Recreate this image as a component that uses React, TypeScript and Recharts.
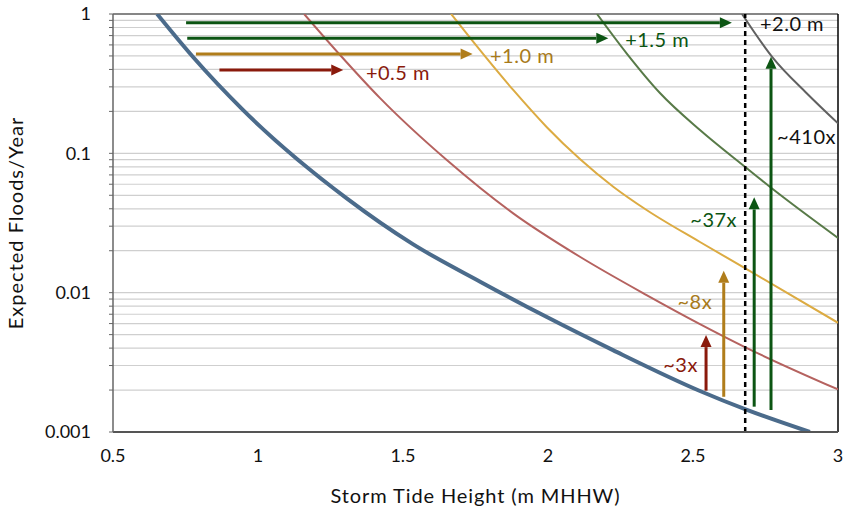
import React from "react";
import {
  LineChart,
  Line,
  XAxis,
  YAxis,
  CartesianGrid,
  ReferenceLine,
  ReferenceDot,
  Label,
} from "recharts";

// ---- data ----
const baseX = [0.652, 0.776, 0.948, 1.306, 1.534, 1.766, 1.996, 2.224, 2.524, 2.686, 2.903];
const baseY = [1, 0.491, 0.205, 0.0475, 0.0223, 0.012, 0.00668, 0.00387, 0.00197, 0.00144, 0.001];

const p05X = [1.159, 1.283, 1.421, 1.651, 1.88, 2.11, 2.34, 2.524, 2.679, 3.0];
const p05Y = [1, 0.508, 0.249, 0.0895, 0.0371, 0.0181, 0.00961, 0.00595, 0.00407, 0.00202];

const p10X = [1.666, 1.737, 1.88, 1.996, 2.11, 2.225, 2.34, 2.524, 2.679, 3.0];
const p10Y = [1, 0.651, 0.285, 0.154, 0.091, 0.0576, 0.0392, 0.0231, 0.015, 0.00608];

const p15X = [2.169, 2.271, 2.386, 2.524, 2.679, 2.766, 3.0];
const p15Y = [1, 0.522, 0.271, 0.147, 0.0801, 0.0573, 0.0247];

const p20X = [2.669, 2.777, 2.892, 3.0];
const p20Y = [1, 0.48, 0.27, 0.164];

const xTicks = [0.5, 1, 1.5, 2, 2.5, 3];
const yMajor = [0.001, 0.01, 0.1, 1];
const yMajorLabels = ["0.001", "0.01", "0.1", "1"];
const yMinorMult = [1, 2, 3, 4, 5, 6, 7, 8, 9];

const targetX = 2.68;

// horizontal arrows: start x, end x, y
const hArrowX1 = [0.752, 0.756, 0.786, 0.867];
const hArrowX2 = [2.634, 2.208, 1.74, 1.294];
const hArrowY = [0.866, 0.669, 0.516, 0.396];

// vertical arrows: x, start y, end y
const vArrowX = [2.545, 2.606, 2.711, 2.769];
const vArrowY1 = [0.00198, 0.00179, 0.00152, 0.00144];
const vArrowY2 = [0.00496, 0.01436, 0.0483, 0.494];

const shiftLabels = ["+0.5 m", "+1.0 m", "+1.5 m", "+2.0 m"];
const shiftLabelX = [1.372, 1.8, 2.266, 2.731];
const shiftLabelY = [0.384, 0.508, 0.661, 0.862];

const factorLabels = ["~3x", "~8x", "~37x", "~410x"];
const factorLabelX = [2.517, 2.566, 2.652, 2.79];
const factorLabelY = [0.00307, 0.0087, 0.0338, 0.133];

// ---- styles ----
const FONT = "Lato, 'Open Sans', sans-serif";
const curveColors = ["#4b6b8b", "#b5625f", "#dcab42", "#587a48", "#606060"];
const hArrowColors = ["#0c5513", "#0c5513", "#b07d1b", "#8a1a0c"];
const vArrowColors = ["#8a1a0c", "#b07d1b", "#0c5513", "#0c5513"];
const shiftLabelColors = ["#8a1a0c", "#a87a1a", "#0c5513", "#111111"];
const factorLabelColors = ["#8a1a0c", "#a87a1a", "#0c5513", "#111111"];
const factorAnchors = ["end", "end", "end", "start"];

const toPoints = (xs: number[], ys: number[]) => xs.map((x, i) => ({ x, y: ys[i] }));

const series = [
  toPoints(baseX, baseY),
  toPoints(p05X, p05Y),
  toPoints(p10X, p10Y),
  toPoints(p15X, p15Y),
  toPoints(p20X, p20Y),
];

const yTicks: number[] = [];
yMajor.forEach((m, i) => {
  if (i < yMajor.length - 1) {
    yMinorMult.forEach((k) => yTicks.push(+(m * k).toPrecision(3)));
  } else {
    yTicks.push(m);
  }
});

const yFmt = (v: number) => {
  const idx = yMajor.findIndex((m) => Math.abs(m - v) / m < 1e-6);
  return idx >= 0 ? yMajorLabels[idx] : "";
};

const arrowShape = (color: string) => (p: any) => {
  const x1 = Number(p.x1), y1 = Number(p.y1), x2 = Number(p.x2), y2 = Number(p.y2);
  const dx = x2 - x1, dy = y2 - y1;
  const len = Math.hypot(dx, dy) || 1;
  const ux = dx / len, uy = dy / len;
  const hl = 12, hw = 5.5;
  const bx = x2 - ux * hl, by = y2 - uy * hl;
  return (
    <g>
      <line x1={x1} y1={y1} x2={bx} y2={by} stroke={color} strokeWidth={3} />
      <polygon
        points={`${x2},${y2} ${bx - uy * hw},${by + ux * hw} ${bx + uy * hw},${by - ux * hw}`}
        fill={color}
      />
    </g>
  );
};

const textShape = (text: string, color: string, anchor: string) => (p: any) => (
  <text
    x={p.cx}
    y={p.cy}
    fill={color}
    fontFamily={FONT}
    fontSize={20}
    letterSpacing={0.5}
    textAnchor={anchor as any}
    dominantBaseline="central"
  >
    {text}
  </text>
);

const YTitle = (props: any) => {
  const vb = props.viewBox || {};
  const cx = 15;
  const cy = vb.y + vb.height / 2;
  return (
    <text
      x={cx}
      y={cy}
      transform={`rotate(-90 ${cx} ${cy})`}
      textAnchor="middle"
      dominantBaseline="central"
      fontFamily={FONT}
      fontSize={20}
      letterSpacing={1}
      fill="#111"
    >
      Expected Floods/Year
    </text>
  );
};

export default function App() {
  return (
    <div style={{ position: "absolute", left: 0, top: 0, width: 845, height: 513, fontFamily: FONT }}>
      <LineChart
        width={845}
        height={513}
        margin={{ top: 14, right: 7, bottom: 6, left: 0 }}
      >
        <CartesianGrid
          horizontal={true}
          vertical={false}
          stroke="#cfcfcf"
          strokeWidth={1.2}
        />
        <XAxis
          type="number"
          dataKey="x"
          domain={[0.5, 3]}
          ticks={xTicks}
          allowDataOverflow
          interval={0}
          height={75}
          tickLine={false}
          tickSize={0}
          tickMargin={17}
          axisLine={{ stroke: "#555", strokeWidth: 2 }}
          tick={{ fontFamily: FONT, fontSize: 18, fill: "#111" }}
        >
          <Label
            value="Storm Tide Height (m MHHW)"
            position="insideBottom"
            offset={4}
            style={{ fontFamily: FONT, fontSize: 20, letterSpacing: 0.9, fill: "#111" }}
          />
        </XAxis>
        <YAxis
          type="number"
          dataKey="y"
          scale="log"
          domain={[0.001, 1]}
          ticks={yTicks}
          allowDataOverflow
          interval={0}
          width={113}
          tickFormatter={yFmt}
          tickSize={4}
          tickMargin={18}
          tickLine={{ stroke: "#666" }}
          axisLine={{ stroke: "#666", strokeWidth: 1.5 }}
          tick={{ fontFamily: FONT, fontSize: 18, fill: "#111" }}
        >
          <Label content={<YTitle />} />
        </YAxis>

        <ReferenceLine y={1} stroke="#666" strokeWidth={1.5} />
        <ReferenceLine x={3} stroke="#000" strokeWidth={1.5} />

        {series.map((d, i) => (
          <Line
            key={i}
            data={d}
            dataKey="y"
            type="monotone"
            stroke={curveColors[i]}
            strokeWidth={i === 0 ? 4 : 2}
            dot={false}
            activeDot={false}
            isAnimationActive={false}
          />
        ))}

        <ReferenceLine
          x={targetX}
          stroke="#000"
          strokeWidth={2.5}
          strokeDasharray="5 4"
        />

        {hArrowY.map((y, i) => (
          <ReferenceLine
            key={"h" + i}
            segment={[
              { x: hArrowX1[i], y },
              { x: hArrowX2[i], y },
            ]}
            shape={arrowShape(hArrowColors[i])}
          />
        ))}
        {vArrowX.map((x, i) => (
          <ReferenceLine
            key={"v" + i}
            segment={[
              { x, y: vArrowY1[i] },
              { x, y: vArrowY2[i] },
            ]}
            shape={arrowShape(vArrowColors[i])}
          />
        ))}

        {shiftLabels.map((t, i) => (
          <ReferenceDot
            key={"s" + i}
            x={shiftLabelX[i]}
            y={shiftLabelY[i]}
            r={0}
            shape={textShape(t, shiftLabelColors[i], "start")}
          />
        ))}
        {factorLabels.map((t, i) => (
          <ReferenceDot
            key={"f" + i}
            x={factorLabelX[i]}
            y={factorLabelY[i]}
            r={0}
            shape={textShape(t, factorLabelColors[i], factorAnchors[i])}
          />
        ))}
      </LineChart>
    </div>
  );
}
